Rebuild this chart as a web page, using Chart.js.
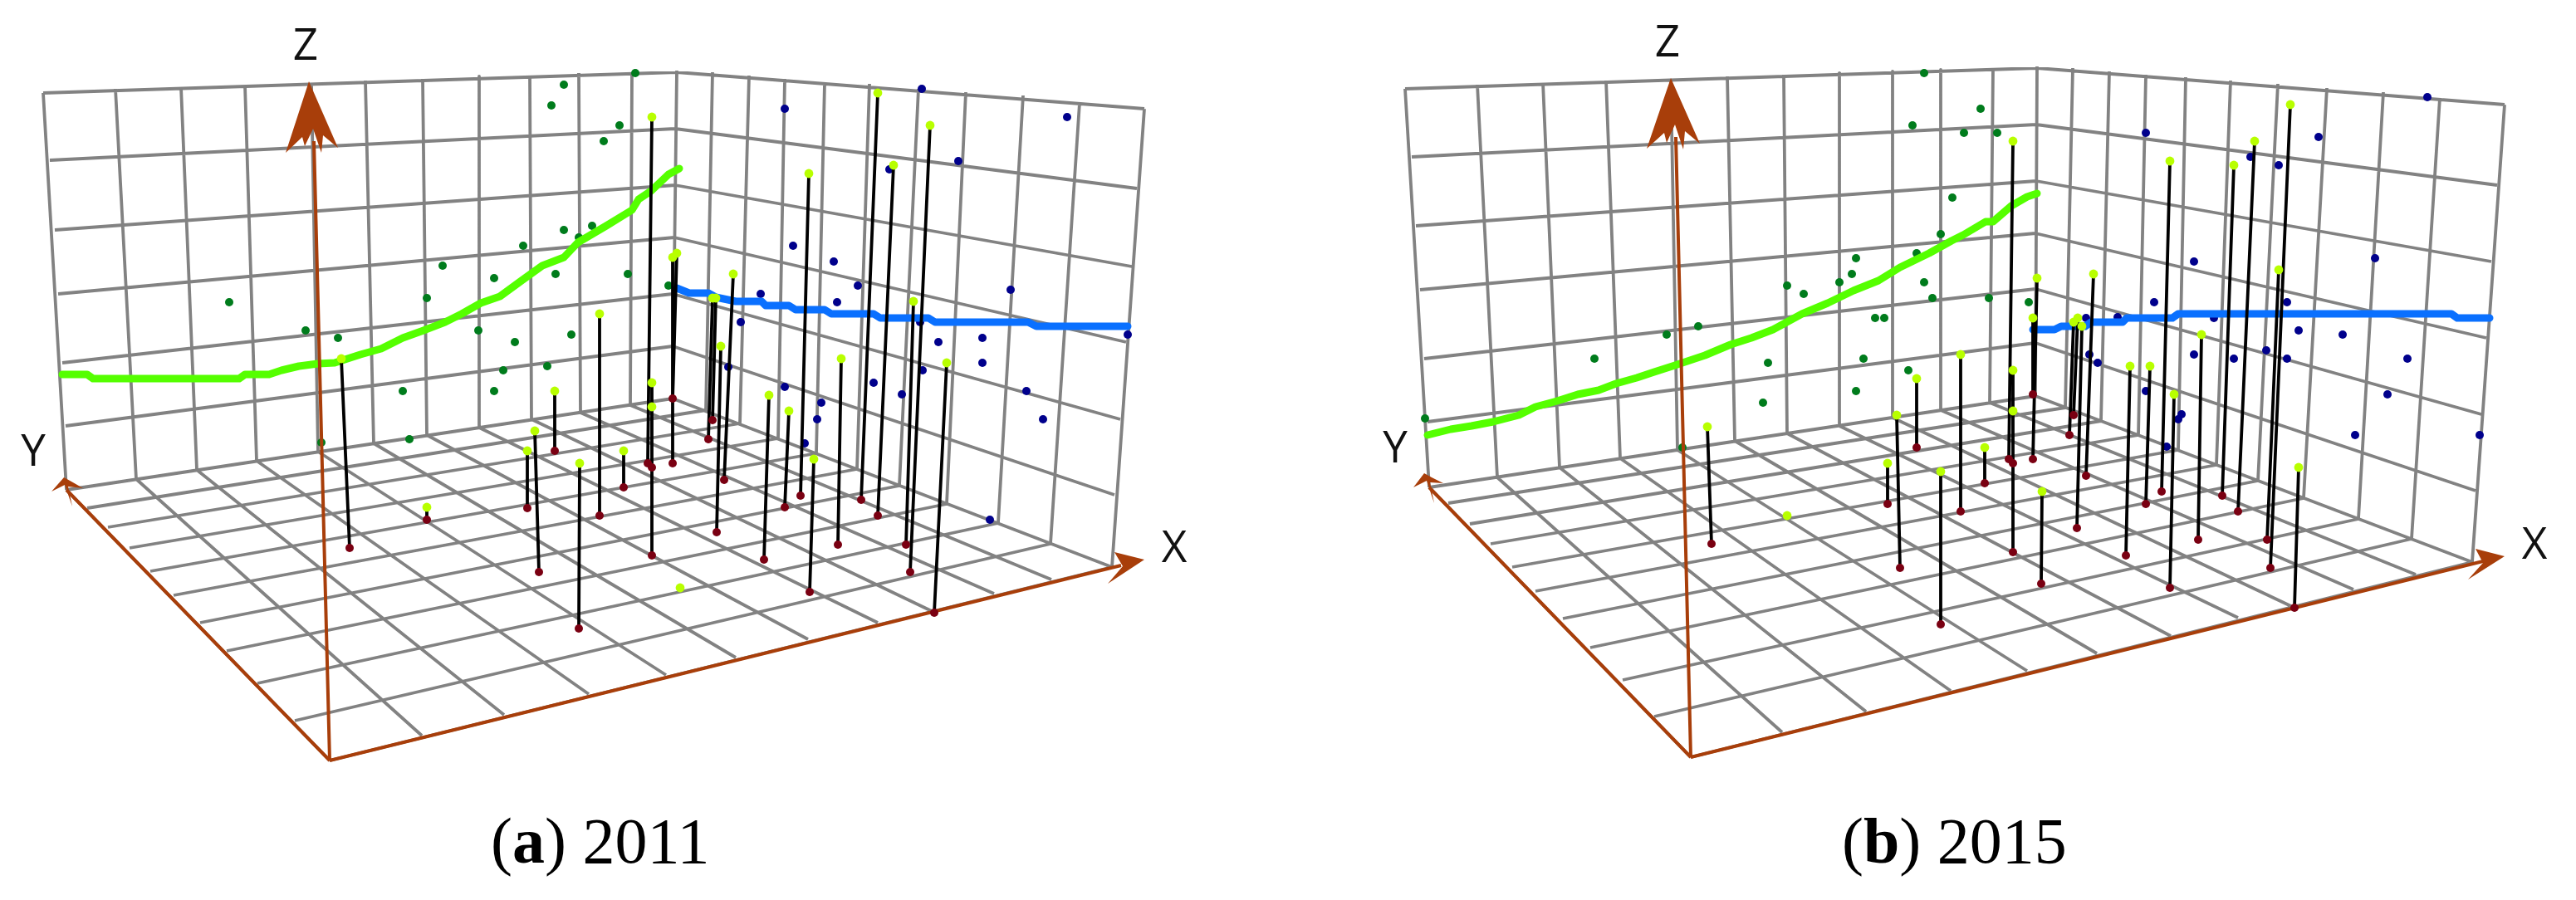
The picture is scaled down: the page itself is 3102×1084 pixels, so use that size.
<!DOCTYPE html>
<html>
<head>
<meta charset="utf-8">
<title>3D trend analysis 2011 and 2015</title>
<script src="https://cdn.jsdelivr.net/npm/chart.js@4/dist/chart.umd.min.js"></script>
<style>
html,body{margin:0;padding:0;background:#fff;width:3102px;height:1084px;overflow:hidden}
canvas{position:absolute;top:0}
</style>
</head>
<body>
<canvas id="a" width="1551" height="1084" style="left:0"></canvas>
<canvas id="b" width="1551" height="1084" style="left:1551px"></canvas>
<script>
// ---------- Panel (a) 2011 ----------
const levelLeftA = [[52,112],[60,193],[66,277],[70,354],[75,437],[79,513],[80,590]];
const levelCornerA = [[815,87],[813,155],[813,223],[812,286],[810,354],[810,417],[810,480]];
const levelRightA = [[1378,131],[1369,227],[1363,321],[1356,412],[1349,505],[1342,596],[1339,683]];
const wallLeftTopA = [[52,112],[139,107],[218,105],[295,103],[375,100],[440,97],[509,95],[577,92],[638,91],[697,88],[761,87],[815,85]];
const wallLeftBottomA = [[80,590],[164,577],[237,566],[309,555],[383,544],[450,534],[514,524],[577,515],[640,505],[699,497],[759,488],[810,480]];
const wallRightTopA = [[858,87],[902,91],[945,95],[993,100],[1047,101],[1106,107],[1163,111],[1232,115],[1300,124],[1378,131]];
const wallRightBottomA = [[850,494],[891,510],[937,528],[983,546],[1032,565],[1083,585],[1140,607],[1202,630],[1265,655],[1339,683]];
const floorYEdgeA = [[105,612],[130,635],[156,660],[181,688],[209,717],[241,750],[273,784],[310,823],[355,868],[397,916]];
const floorXEdgeA = [[397,916],[508,886],[607,861],[709,836],[802,813],[886,792],[973,770],[1057,750],[1124,737],[1197,715],[1266,698],[1339,683]];
const axisZA = [[397,916],[378,170]];
const axisYA = [[397,916],[80,590]];
const axisXA = [[397,916],[1350,681]];
const arrowZA = [[372,98],[407,178],[389,163],[387,184],[377,155],[367,176],[364,165],[344,184]];
const arrowYA = [[77,575],[62,592],[78,584],[87,610],[82,586],[100,588],[86,580]];
const arrowXA = [[1378,674],[1342,665],[1352,682],[1334,703]];
const greenDotsA = [[679,102],[765,88],[664,127],[746,151],[727,170],[679,277],[713,272],[697,286],[630,296],[533,320],[595,335],[669,330],[756,330],[514,359],[276,364],[576,398],[368,398],[407,407],[620,412],[688,403],[606,446],[659,441],[485,471],[595,471],[493,529],[387,533],[805,344]];
const blueDotsA = [[945,131],[1110,107],[1285,141],[1154,194],[1071,204],[955,296],[1004,315],[1033,344],[916,354],[1008,364],[1217,349],[892,388],[1108,388],[1183,407],[1130,412],[1358,403],[1183,437],[1111,446],[877,442],[945,466],[1052,461],[1236,471],[1086,475],[989,485],[984,505],[1256,505],[969,534],[1192,626]];
const stemTopsA = [[411,432],[514,611],[635,543],[644,519],[668,471],[698,558],[722,378],[751,543],[785,141],[785,461],[785,490],[810,310],[815,305],[858,359],[862,359],[883,330],[868,417],[974,209],[1057,112],[1076,199],[1120,151],[1100,363],[1013,432],[1140,437],[926,476],[950,495],[980,553]];
const stemBottomsA = [[421,660],[514,626],[635,612],[649,689],[668,543],[697,757],[722,621],[751,587],[780,558],[785,563],[785,669],[810,558],[810,480],[853,529],[858,506],[872,578],[863,641],[964,597],[1037,602],[1057,621],[1096,689],[1091,656],[1009,656],[1125,738],[920,674],[945,611],[975,713]];
const looseTopsA = [[819,708]];
const trendGreenA = [[75,451],[105,451],[112,456],[288,456],[295,451],[324,451],[339,446],[360,441],[383,438],[403,437],[434,427],[459,420],[485,407],[510,398],[536,388],[556,378],[579,365],[602,357],[628,338],[653,320],[679,310],[696,292],[730,272],[761,253],[769,240],[784,230],[805,210],[818,203]];
const trendBlueA = [[815,347],[830,353],[853,353],[862,358],[886,363],[917,363],[922,368],[950,368],[958,373],[993,373],[1001,378],[1052,378],[1060,383],[1118,383],[1126,388],[1238,388],[1248,393],[1358,393]];
const axisLabelsA = [["Z",368,72],["Y",40,561],["X",1414,677]];

// ---------- Panel (b) 2015 ----------
const levelLeftB = [[1692,107],[1700,189],[1705,272],[1710,349],[1715,432],[1719,508],[1721,587]];
const levelCornerB = [[2453,82],[2452,150],[2452,218],[2451,281],[2451,348],[2451,413],[2451,477]];
const levelRightB = [[3016,126],[3007,223],[3000,315],[2994,407],[2988,499],[2981,591],[2977,677]];
const wallLeftTopB = [[1692,107],[1779,102],[1858,100],[1934,97],[2012,95],[2080,92],[2148,90],[2215,88],[2279,86],[2337,84],[2400,82],[2453,80]];
const wallLeftBottomB = [[1721,587],[1803,575],[1878,563],[1951,552],[2020,542],[2089,531],[2152,522],[2215,513],[2279,503],[2337,494],[2396,485],[2451,477]];
const wallRightTopB = [[2496,82],[2540,86],[2584,90],[2632,93],[2686,97],[2743,101],[2802,106],[2870,111],[2938,118],[3016,126]];
const wallRightBottomB = [[2487,491],[2530,507],[2575,524],[2623,542],[2669,560],[2719,579],[2774,600],[2840,625],[2904,649],[2977,677]];
const floorYEdgeB = [[1744,606],[1770,631],[1795,655],[1821,683],[1849,712],[1882,745],[1915,780],[1954,819],[1992,863],[2036,912]];
const floorXEdgeB = [[2036,912],[2146,882],[2247,857],[2349,832],[2441,808],[2525,787],[2614,766],[2695,744],[2763,732],[2834,710],[2909,692],[2977,677]];
const axisZB = [[2036,912],[2018,165]];
const axisYB = [[2036,912],[1721,587]];
const axisXB = [[2036,912],[2990,676]];
const arrowZB = [[2012,94],[2047,173],[2029,158],[2027,180],[2017,150],[2007,172],[2004,160],[1983,179]];
const arrowYB = [[1715,570],[1702,587],[1718,579],[1727,606],[1722,581],[1738,582],[1724,575]];
const arrowXB = [[3016,670],[2981,661],[2990,678],[2972,698]];
const greenDotsB = [[2317,88],[2385,131],[2303,151],[2365,160],[2405,160],[2351,238],[2337,282],[2308,305],[2235,311],[2230,330],[2215,340],[2152,344],[2172,354],[2317,340],[2327,359],[2395,359],[2443,364],[2258,383],[2269,383],[2045,393],[2007,403],[1920,432],[2129,437],[2244,432],[2298,446],[2235,471],[2123,485],[1716,504],[2026,539]];
const blueDotsB = [[2923,117],[2584,160],[2792,165],[2710,189],[2744,199],[2642,315],[2860,311],[2594,364],[2754,364],[2512,383],[2550,382],[2666,383],[2768,398],[2821,403],[2729,422],[2642,427],[2690,432],[2754,432],[2899,432],[2516,427],[2526,437],[2584,471],[2875,475],[2627,499],[2623,505],[2609,538],[2836,524],[2986,524]];
const stemTopsB = [[2056,514],[2273,558],[2284,500],[2308,456],[2337,568],[2361,427],[2390,539],[2424,170],[2424,446],[2424,495],[2453,335],[2448,383],[2521,330],[2497,388],[2502,383],[2507,393],[2613,194],[2690,199],[2715,170],[2758,126],[2744,325],[2651,403],[2565,441],[2589,441],[2618,475],[2459,592],[2768,563]];
const stemBottomsB = [[2061,655],[2273,607],[2288,684],[2308,539],[2337,752],[2361,616],[2390,582],[2419,553],[2424,558],[2424,665],[2448,553],[2448,475],[2512,573],[2492,524],[2497,500],[2501,636],[2603,592],[2676,597],[2695,616],[2734,684],[2730,650],[2647,650],[2560,669],[2584,607],[2613,708],[2458,703],[2763,732]];
const looseTopsB = [[2152,621]];
const trendGreenB = [[1719,524],[1747,517],[1772,513],[1798,508],[1829,500],[1849,490],[1875,483],[1900,475],[1925,470],[1946,462],[1971,455],[1992,448],[2017,440],[2053,428],[2084,415],[2109,407],[2135,397],[2170,378],[2201,365],[2232,350],[2262,338],[2288,322],[2323,305],[2350,290],[2364,283],[2391,267],[2400,267],[2422,248],[2441,237],[2453,233]];
const trendBlueB = [[2448,397],[2474,397],[2482,393],[2511,393],[2518,388],[2556,388],[2561,383],[2616,383],[2623,378],[2952,378],[2959,383],[2998,383]];
const axisLabelsB = [["Z",2008,68],["Y",1680,557],["X",3052,673]];

const captionA = ["(", "a", ") 2011"];
const captionB = ["(", "b", ") 2015"];

// ---------- Styles ----------
const GREY = "#828282", BROWN = "#a83e0a", BLACK = "#000000";
const pts = a => a.map(p => ({x: p[0], y: p[1]}));
const GAP = {x: null, y: null};
function segments(pairs) {
  const out = [];
  pairs.forEach(([s, e]) => { out.push({x: s[0], y: s[1]}, {x: e[0], y: e[1]}, GAP); });
  return out;
}
function zip(a, b) { return a.map((p, i) => [p, b[i]]); }

const lineDs = (label, data, color, width, cap) => ({type: "line", label, data, borderColor: color, borderWidth: width,
  pointRadius: 0, tension: 0, fill: false, spanGaps: false, borderCapStyle: cap || "butt", borderJoinStyle: "round"});
const dotDs = (label, data, color, r) => ({type: "scatter", label, data, backgroundColor: color, borderColor: color, borderWidth: 0,
  pointRadius: r, pointHoverRadius: r, showLine: false});

function panel(id, xMin, xMax, d) {
  const gridData = [
    ...zip(d.levelLeft, d.levelCorner),
    ...zip(d.levelCorner, d.levelRight),
    ...zip(d.wallLeftTop, d.wallLeftBottom),
    ...zip(d.wallRightTop, d.wallRightBottom),
    ...zip(d.floorY, d.wallRightBottom),
    ...zip(d.wallLeftBottom, d.floorX)
  ];
  const datasets = [
    lineDs("grid", segments(gridData), GREY, 3.8),
    dotDs("Y-Z projection points", pts(d.greenDots), "#007c1c", 5),
    dotDs("X-Z projection points", pts(d.blueDots), "#00008c", 5),
    lineDs("Y-Z trend", pts(d.trendGreen), "#55ff00", 9, "round"),
    lineDs("X-Z trend", pts(d.trendBlue), "#0a70ff", 9, "round"),
    lineDs("axes", segments([d.axisZ, d.axisY, d.axisX]), BROWN, 4),
    lineDs("stems", segments(zip(d.stemTops, d.stemBottoms)), BLACK, 3.8),
    dotDs("sample locations", pts(d.stemBottoms), "#7a0012", 5),
    dotDs("sample values", pts(d.stemTops.concat(d.looseTops)), "#b8ff00", 5.4)
  ];
  datasets.forEach((ds, i) => { ds.order = datasets.length - i; });

  const overlay = {
    id: "overlay",
    afterDatasetsDraw(chart) {
      const ctx = chart.ctx, sx = chart.scales.x, sy = chart.scales.y;
      const X = v => sx.getPixelForValue(v), Y = v => sy.getPixelForValue(v);
      ctx.save();
      ctx.fillStyle = BROWN;
      [d.arrowZ, d.arrowY, d.arrowX].forEach(poly => {
        ctx.beginPath();
        poly.forEach((p, i) => i ? ctx.lineTo(X(p[0]), Y(p[1])) : ctx.moveTo(X(p[0]), Y(p[1])));
        ctx.closePath();
        ctx.fill();
      });
      ctx.fillStyle = "#111";
      ctx.textBaseline = "alphabetic";
      ctx.textAlign = "center";
      ctx.font = '400 53px "Open Sans"';
      d.labels.forEach(l => ctx.fillText(l[0], X(l[1]), Y(l[2])));
      ctx.fillStyle = "#000";
      ctx.textAlign = "left";
      let cx = X(d.captionX);
      const cy = Y(d.captionY);
      d.caption.forEach((t, i) => {
        ctx.font = (i === 1 ? "bold " : "") + '78px "Liberation Serif"';
        ctx.fillText(t, cx, cy);
        cx += ctx.measureText(t).width;
      });
      ctx.restore();
    }
  };

  return new Chart(document.getElementById(id), {
    type: "line",
    data: {datasets},
    options: {
      responsive: false, animation: false, devicePixelRatio: 1,
      layout: {padding: 0, autoPadding: false},
      plugins: {legend: {display: false}, tooltip: {enabled: false}, title: {display: false}},
      events: [],
      scales: {
        x: {type: "linear", min: xMin, max: xMax, display: false},
        y: {type: "linear", min: 0, max: 1084, reverse: true, display: false}
      }
    },
    plugins: [overlay]
  });
}

panel("a", 0, 1551, {
  levelLeft: levelLeftA, levelCorner: levelCornerA, levelRight: levelRightA,
  wallLeftTop: wallLeftTopA, wallLeftBottom: wallLeftBottomA, wallRightTop: wallRightTopA, wallRightBottom: wallRightBottomA,
  floorY: floorYEdgeA, floorX: floorXEdgeA, axisZ: axisZA, axisY: axisYA, axisX: axisXA,
  arrowZ: arrowZA, arrowY: arrowYA, arrowX: arrowXA, greenDots: greenDotsA, blueDots: blueDotsA,
  stemTops: stemTopsA, stemBottoms: stemBottomsA, looseTops: looseTopsA, trendGreen: trendGreenA, trendBlue: trendBlueA,
  labels: axisLabelsA, caption: captionA, captionX: 591, captionY: 1039
});
panel("b", 1551, 3102, {
  levelLeft: levelLeftB, levelCorner: levelCornerB, levelRight: levelRightB,
  wallLeftTop: wallLeftTopB, wallLeftBottom: wallLeftBottomB, wallRightTop: wallRightTopB, wallRightBottom: wallRightBottomB,
  floorY: floorYEdgeB, floorX: floorXEdgeB, axisZ: axisZB, axisY: axisYB, axisX: axisXB,
  arrowZ: arrowZB, arrowY: arrowYB, arrowX: arrowXB, greenDots: greenDotsB, blueDots: blueDotsB,
  stemTops: stemTopsB, stemBottoms: stemBottomsB, looseTops: looseTopsB, trendGreen: trendGreenB, trendBlue: trendBlueB,
  labels: axisLabelsB, caption: captionB, captionX: 2218, captionY: 1039
});
</script>
</body>
</html>
